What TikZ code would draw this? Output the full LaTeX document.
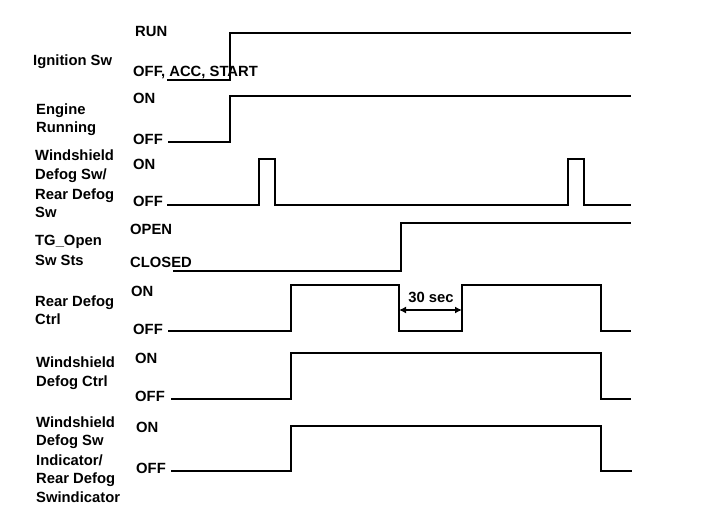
\documentclass[tikz,border=0pt]{standalone}
\usepackage{fontspec}
\setmainfont{Liberation Sans}
\usetikzlibrary{arrows.meta}
\begin{document}
\begin{tikzpicture}[x=1pt,y=-1pt,
  lbl/.style={anchor=base west,inner sep=0pt,font=\fontsize{14.8}{18}\selectfont\bfseries},
  sig/.style={line width=2pt,line join=miter},
  dimline/.style={line width=1.5pt,{Latex[length=7pt,width=7pt]}-{Latex[length=7pt,width=7pt]}}]
\useasboundingbox (0,0) rectangle (704,526);
% Ignition Sw
\node[lbl] (ign) at (33,66) {Ignition Sw};
\node[lbl] (ignrun) at (135,37) {RUN};
\node[lbl] (ignoff) at (133,77) {OFF, ACC, START};
\draw[sig] (167,80) -- (230,80) -- (230,33) -- (631,33);
% Engine Running
\node[lbl] (engA) at (36,115) {Engine};
\node[lbl] (engB) at (36,133) {Running};
\node[lbl] (engon) at (133,104) {ON};
\node[lbl] (engoff) at (133,145) {OFF};
\draw[sig] (168,142) -- (230,142) -- (230,96) -- (631,96);
% Windshield Defog Sw / Rear Defog Sw
\node[lbl] (wsA) at (35,161) {Windshield};
\node[lbl] (wsB) at (35,180) {Defog Sw/};
\node[lbl] (wsC) at (35,200) {Rear Defog};
\node[lbl] (wsD) at (35,218) {Sw};
\node[lbl] (wson) at (133,170) {ON};
\node[lbl] (wsoff) at (133,207) {OFF};
\draw[sig] (167,205) -- (259,205) -- (259,159) -- (275,159) -- (275,205) -- (568,205) -- (568,159) -- (584,159) -- (584,205) -- (631,205);
% TG_Open Sw Sts
\node[lbl] (tgA) at (35,246) {TG\_Open};
\node[lbl] (tgB) at (35,266) {Sw Sts};
\node[lbl] (tgopen) at (130,235) {OPEN};
\node[lbl] (tgclosed) at (130,268) {CLOSED};
\draw[sig] (173,271) -- (401,271) -- (401,223) -- (631,223);
% Rear Defog Ctrl
\node[lbl] (rdA) at (35,307) {Rear Defog};
\node[lbl] (rdB) at (35,325) {Ctrl};
\node[lbl] (rdon) at (131,297) {ON};
\node[lbl] (rdoff) at (133,335) {OFF};
\draw[sig] (168,331) -- (291,331) -- (291,285) -- (399,285) -- (399,331) -- (462,331) -- (462,285) -- (601,285) -- (601,331) -- (631,331);
\coordinate (t0) at (399,310);
\coordinate (t1) at (462,310);
\draw[dimline] (t0) -- (t1);
\node[anchor=base,inner sep=0pt,font=\fontsize{14.8}{18}\selectfont\bfseries] (tsec) at (431,303) {30 sec};
% Windshield Defog Ctrl
\node[lbl] (wcA) at (36,368) {Windshield};
\node[lbl] (wcB) at (36,387) {Defog Ctrl};
\node[lbl] (wcon) at (135,363) {ON};
\node[lbl] (wcoff) at (135,402) {OFF};
\draw[sig] (171,399) -- (291,399) -- (291,353) -- (601,353) -- (601,399) -- (631,399);
% Indicator
\node[lbl] (inA) at (36,427) {Windshield};
\node[lbl] (inB) at (36,445) {Defog Sw};
\node[lbl] (inC) at (36,465) {Indicator/};
\node[lbl] (inD) at (36,483) {Rear Defog};
\node[lbl] (inE) at (36,502) {Swindicator};
\node[lbl] (inon) at (136,432) {ON};
\node[lbl] (inoff) at (136,473) {OFF};
\draw[sig] (171,471) -- (291,471) -- (291,426) -- (601,426) -- (601,471) -- (632,471);
\end{tikzpicture}
\end{document}
